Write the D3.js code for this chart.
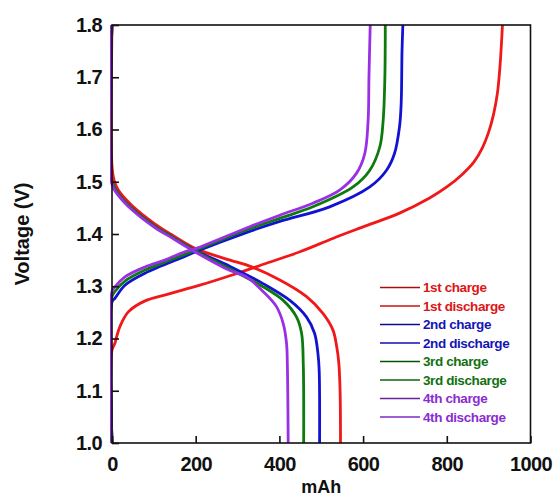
<!DOCTYPE html>
<html>
<head>
<meta charset="utf-8">
<script src="https://cdn.jsdelivr.net/npm/d3@7"></script>
<style>
  body { margin: 0; background: #fff; }
  text { font-family: "Liberation Sans", Arial, sans-serif; font-weight: bold; }
</style>
</head>
<body>
<svg id="canvas"></svg>
<script>
// [mAh, V]
const charge1 = [[0,1.0],[0,1.178],[7,1.191],[11,1.203],[19,1.223],[39,1.251],[79,1.272],[130,1.284],[174,1.294],[210,1.302],[289,1.322],[369,1.344],[449,1.366],[529,1.392],[608,1.416],[687,1.44],[759,1.469],[800,1.49],[838,1.515],[865,1.538],[885,1.565],[900,1.595],[912,1.63],[921,1.67],[927,1.72],[931,1.77],[933,1.8]]
const discharge1 = [[0,1.8],[0,1.53],[5,1.503],[15,1.484],[47,1.455],[103,1.419],[142,1.399],[200,1.372],[282,1.35],[321,1.341],[401,1.312],[465,1.28],[504,1.248],[528,1.216],[537,1.184],[542,1.153],[545,1.1],[546,1.0]]
const charge2 = [[0,1.0],[0,1.27],[7,1.277],[31,1.302],[79,1.325],[174,1.357],[200,1.366],[329,1.405],[401,1.424],[520,1.452],[616,1.49],[656,1.522],[675,1.554],[687,1.605],[691,1.65],[693,1.75],[695,1.8]]
const discharge2 = [[0,1.8],[0,1.5],[15,1.477],[47,1.449],[103,1.414],[142,1.395],[200,1.368],[282,1.338],[361,1.305],[425,1.273],[465,1.241],[484,1.21],[492,1.172],[495,1.14],[496,1.0]]
const charge3 = [[0,1.0],[0,1.28],[7,1.29],[31,1.31],[79,1.331],[174,1.361],[200,1.369],[329,1.41],[401,1.43],[480,1.452],[576,1.49],[616,1.522],[640,1.567],[648,1.618],[652,1.7],[653,1.8]]
const discharge3 = [[0,1.8],[0,1.5],[15,1.477],[47,1.449],[103,1.414],[142,1.395],[200,1.367],[282,1.333],[361,1.299],[409,1.273],[441,1.241],[453,1.21],[457,1.153],[458,1.0]]
const charge4 = [[0,1.0],[0,1.29],[7,1.299],[31,1.318],[79,1.337],[126,1.35],[174,1.366],[200,1.372],[329,1.414],[401,1.436],[480,1.459],[544,1.484],[584,1.516],[604,1.554],[612,1.618],[614,1.7],[617,1.8]]
const discharge4 = [[0,1.8],[0,1.495],[15,1.474],[47,1.447],[103,1.412],[142,1.393],[200,1.365],[282,1.33],[321,1.318],[361,1.29],[393,1.261],[409,1.229],[417,1.191],[419,1.15],[421,1.0]]

const seriesNames = ['1st charge', '1st discharge', '2nd charge', '2nd discharge',
  '3rd charge', '3rd discharge', '4th charge', '4th discharge']
const seriesData = [charge1, discharge1, charge2, discharge2, charge3, discharge3, charge4, discharge4]
const xTicks = [0, 200, 400, 600, 800, 1000]
const yTicks = [1.0, 1.1, 1.2, 1.3, 1.4, 1.5, 1.6, 1.7, 1.8]

const lineColors = ['#f01818', '#1212d2', '#0c7a0c', '#9a30e6']
const textColors = ['#dd1515', '#1515b5', '#127012', '#8a2cd0']

let width = 556
let height = 498
let padL = 112, padR = 530.5, padT = 25, padB = 443

let svg = d3.select('#canvas')
svg.attr('width', width).attr('height', height)

let xScale = d3.scaleLinear().domain([0, 1000]).range([padL, padR])
let yScale = d3.scaleLinear().domain([1.0, 1.8]).range([padB, padT])

svg.append('clipPath').attr('id', 'clip')
  .append('rect')
  .attr('x', padL - 2).attr('y', padT).attr('width', padR - padL + 2).attr('height', padB - padT)

// curves
let line = d3.line()
  .x(d => xScale(d[0]))
  .y(d => yScale(d[1]))
  .curve(d3.curveCatmullRom.alpha(0.5))

svg.append('g')
  .attr('clip-path', 'url(#clip)')
  .selectAll('path')
  .data(seriesData)
  .enter()
  .append('path')
  .attr('d', d => line(d))
  .attr('fill', 'none')
  .attr('stroke', (d, i) => lineColors[Math.floor(i / 2)])
  .attr('stroke-width', 2.8)
  .attr('stroke-linejoin', 'round')

// frame
svg.append('rect')
  .attr('x', padL).attr('y', padT)
  .attr('width', padR - padL).attr('height', padB - padT)
  .attr('fill', 'none').attr('stroke', '#111').attr('stroke-width', 1.6)

// axes, ticks pointing inward
let xAxis = d3.axisBottom(xScale).tickValues(xTicks).tickSizeInner(-7).tickSizeOuter(0).tickPadding(14)
  .tickFormat(d3.format('d'))
let gx = svg.append('g')
  .attr('transform', 'translate(0,' + padB + ')')
  .call(xAxis)
gx.select('.domain').remove()
gx.selectAll('line').attr('stroke', '#111').attr('stroke-width', 1.6)
gx.selectAll('text').attr('font-size', 20).attr('letter-spacing', -0.6).attr('fill', '#111')
  .attr('font-family', '"Liberation Sans", Arial, sans-serif')

let yAxis = d3.axisLeft(yScale).tickValues(yTicks).tickSizeInner(-7).tickSizeOuter(0).tickPadding(10)
  .tickFormat(d3.format('.1f'))
let gy = svg.append('g')
  .attr('transform', 'translate(' + padL + ',0)')
  .call(yAxis)
gy.select('.domain').remove()
gy.selectAll('line').attr('stroke', '#111').attr('stroke-width', 1.6)
gy.selectAll('text').attr('font-size', 20).attr('letter-spacing', -0.6).attr('fill', '#111')
  .attr('font-family', '"Liberation Sans", Arial, sans-serif')

// axis titles
svg.append('text')
  .attr('x', (padL + padR) / 2).attr('y', 493)
  .attr('text-anchor', 'middle')
  .attr('font-size', 18).attr('fill', '#111')
  .text('mAh')

svg.append('text')
  .attr('transform', 'translate(29,' + (padT + padB) / 2 + ') rotate(-90)')
  .attr('text-anchor', 'middle')
  .attr('font-size', 20).attr('fill', '#111')
  .text('Voltage (V)')

// legend
let legend = svg.append('g')
  .selectAll('g')
  .data(seriesNames)
  .enter()
  .append('g')
  .attr('transform', (d, i) => 'translate(380,' + (287.5 + i * 18.5) + ')')

legend.append('line')
  .attr('x1', 0).attr('x2', 40)
  .attr('stroke', (d, i) => d3.color(lineColors[Math.floor(i / 2)]).darker(i % 2 ? 0.5 : 1.1))
  .attr('stroke-width', 1.6)

legend.append('text')
  .attr('x', 43).attr('y', 4.5)
  .attr('font-size', 13.5)
  .attr('letter-spacing', -0.4)
  .attr('fill', (d, i) => textColors[Math.floor(i / 2)])
  .text(d => d)
</script>
</body>
</html>
